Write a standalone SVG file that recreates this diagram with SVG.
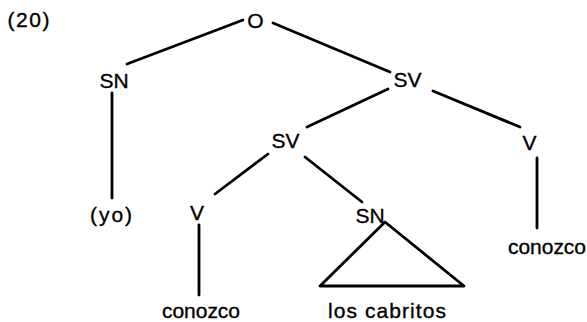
<svg xmlns="http://www.w3.org/2000/svg" width="587" height="322" viewBox="0 0 587 322">
  <style>
    text { font-family: "Liberation Sans", Arial, sans-serif; font-size: 21px; fill: #000; stroke: #000; stroke-width: 0.35; text-anchor: middle; }
    .edge { stroke: #000; stroke-width: 2.8; stroke-linecap: round; fill: none; }
  </style>
  <rect width="587" height="322" fill="#fff"/>

  <text id="label-20" x="28.5" y="27" textLength="42" lengthAdjust="spacing">(20)</text>

  <g id="connectors">
    <line class="edge" x1="243" y1="20" x2="127" y2="64"/>
    <line class="edge" x1="273" y1="23" x2="390" y2="72"/>
    <line class="edge" x1="112" y1="93" x2="112" y2="198"/>
    <line class="edge" x1="388" y1="89" x2="307" y2="127"/>
    <line class="edge" x1="433" y1="91" x2="520" y2="127"/>
    <line class="edge" x1="268" y1="154" x2="215" y2="194"/>
    <line class="edge" x1="305" y1="157" x2="362" y2="202"/>
    <line class="edge" x1="199" y1="225" x2="199" y2="295"/>
    <line class="edge" x1="537" y1="158" x2="537" y2="228"/>
    <polygon class="edge" points="385,222 320,286 464,286" stroke-linejoin="round"/>
  </g>

  <g id="node-O"><text x="255.5" y="27.5">O</text></g>
  <g id="node-SN-subj"><text x="114" y="88">SN</text></g>
  <g id="node-SV-top"><text x="407.5" y="87">SV</text></g>
  <g id="node-SV-low"><text x="285.5" y="148">SV</text></g>
  <g id="node-V-right"><text x="529.5" y="150">V</text></g>
  <g id="node-yo"><text x="111" y="222" textLength="42" lengthAdjust="spacing">(yo)</text></g>
  <g id="node-V-left"><text x="197" y="220">V</text></g>
  <g id="node-SN-obj"><text x="370" y="223">SN</text></g>
  <g id="node-conozco-left"><text x="201" y="318" textLength="78" lengthAdjust="spacing">conozco</text></g>
  <g id="node-los-cabritos"><text x="387" y="318" textLength="118" lengthAdjust="spacing">los cabritos</text></g>
  <g id="node-conozco-right"><text x="547" y="254" textLength="78" lengthAdjust="spacing">conozco</text></g>
</svg>
